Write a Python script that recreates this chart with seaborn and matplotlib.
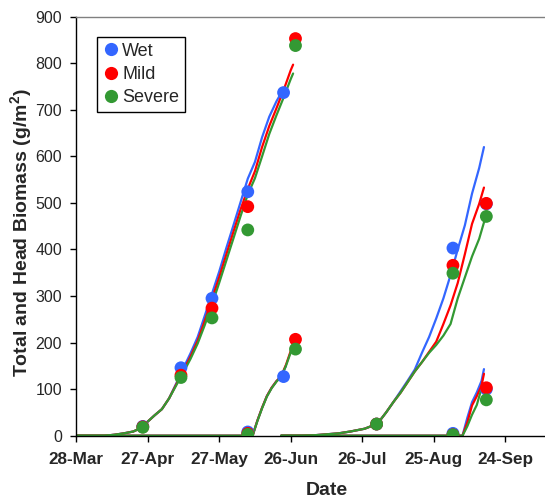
import pandas as pd
import matplotlib
matplotlib.use('Agg')
import matplotlib.pyplot as plt
from matplotlib.lines import Line2D
import seaborn as sns

start = pd.Timestamp('2007-03-28')
treatments = ['Wet', 'Mild', 'Severe']
colors = {'Wet': '#3366ff', 'Mild': '#ff0000', 'Severe': '#339933'}

# simulated curves, days after 28-Mar
s1_total_days = [0, 12, 16, 20, 24, 27, 30, 33, 36, 39, 42, 45, 48, 51, 54,
                 57, 60, 63, 66, 69, 72, 75, 78, 81, 84, 87, 90, 91]
s1_total_wet = [0, 0, 2, 5, 9, 16, 30, 44, 57, 80, 112, 145, 177, 212, 258,
                305, 352, 403, 452, 502, 552, 588, 641, 685, 718, 745]
s1_total_mild = [0, 0, 2, 5, 9, 16, 30, 44, 57, 80, 110, 140, 170, 204, 247,
                 293, 340, 389, 438, 486, 530, 568, 620, 665, 703, 742, 785, 797]
s1_total_severe = [0, 0, 2, 5, 9, 16, 30, 44, 57, 80, 108, 136, 165, 198, 238,
                   282, 328, 376, 424, 472, 518, 553, 600, 648, 688, 726, 766, 778]

s1_head_days = [0, 74, 76, 78, 80, 82, 84, 86, 88, 90, 91]
s1_head_wet = [0, 0, 32, 60, 85, 103, 117, 127, 150]
s1_head_mild = [0, 0, 32, 60, 85, 103, 117, 128, 152, 182, 196]
s1_head_severe = [0, 0, 31, 59, 84, 102, 116, 127, 150, 179, 192]

s2_total_days = [86, 95, 100, 105, 110, 115, 118, 121, 124, 127, 130, 133, 136,
                 139, 142, 145, 148, 151, 154, 157, 160, 163, 166, 169, 171, 172]
s2_total_wet = [0, 0, 1, 3, 5, 9, 12, 15, 21, 30, 50, 72, 95,
                118, 142, 178, 212, 252, 295, 345, 400, 452, 520, 575, 620]
s2_total_mild = [0, 0, 1, 3, 5, 9, 12, 15, 21, 30, 50, 72, 92,
                 115, 138, 158, 180, 202, 240, 280, 328, 390, 455, 498, 533]
s2_total_severe = [0, 0, 1, 3, 5, 9, 12, 15, 21, 30, 50, 72, 92,
                   115, 138, 158, 178, 195, 215, 240, 295, 340, 385, 423, 458, 472]

s2_head_days = [86, 162, 164, 166, 168, 170, 171]
s2_head_wet = [0, 0, 38, 72, 93, 118, 143]
s2_head_mild = [0, 0, 28, 65, 85, 108, 133]
s2_head_severe = [0, 0, 20, 45, 66, 102]

# measured points (day, value)
obs_wet = [(28, 20), (44, 146), (57, 295), (72, 524), (87, 737),
           (72, 8), (87, 127),
           (126, 25), (158, 403), (172, 498),
           (158, 5), (172, 100)]
obs_mild = [(28, 19), (44, 130), (57, 274), (72, 492), (92, 853),
            (72, 5), (92, 207),
            (126, 25), (158, 366), (172, 499),
            (158, 2), (172, 103)]
obs_severe = [(28, 18), (44, 125), (57, 253), (72, 442), (92, 838),
              (72, 3), (92, 186),
              (126, 25), (158, 349), (172, 471),
              (158, 2), (172, 77)]

tick_days = [0, 30, 60, 90, 120, 150, 180]
tick_labels = ['28-Mar', '27-Apr', '27-May', '26-Jun', '26-Jul', '25-Aug', '24-Sep']

curves = {
    's1_total': (s1_total_days, {'Wet': s1_total_wet, 'Mild': s1_total_mild, 'Severe': s1_total_severe}),
    's1_head': (s1_head_days, {'Wet': s1_head_wet, 'Mild': s1_head_mild, 'Severe': s1_head_severe}),
    's2_total': (s2_total_days, {'Wet': s2_total_wet, 'Mild': s2_total_mild, 'Severe': s2_total_severe}),
    's2_head': (s2_head_days, {'Wet': s2_head_wet, 'Mild': s2_head_mild, 'Severe': s2_head_severe}),
}

rows = []
for name, (days, series) in curves.items():
    for trt in treatments:
        for d, v in zip(days, series[trt]):
            rows.append({'treatment': trt, 'curve': name, 'date': start + pd.Timedelta(days=d), 'value': v})
lines = pd.DataFrame(rows)

rows = []
for trt, pts in zip(treatments, [obs_wet, obs_mild, obs_severe]):
    for d, v in pts:
        rows.append({'treatment': trt, 'date': start + pd.Timedelta(days=d), 'value': v})
obs = pd.DataFrame(rows)

sns.set_style('white')
plt.rcParams['font.family'] = ['Liberation Sans', 'DejaVu Sans']
plt.rcParams['mathtext.fontset'] = 'custom'
plt.rcParams['mathtext.rm'] = 'Liberation Sans'
plt.rcParams['mathtext.bf'] = 'Liberation Sans:bold'

fig = plt.figure(figsize=(5.45, 4.99), dpi=100)
ax = fig.add_axes([76 / 545, 63.3 / 499, 501 / 545, 419 / 499])

sns.lineplot(data=lines, x='date', y='value', hue='treatment', units='curve',
             estimator=None, sort=False, palette=colors, hue_order=treatments,
             linewidth=1.6, legend=False, ax=ax)
sns.scatterplot(data=obs, x='date', y='value', hue='treatment', palette=colors,
                hue_order=treatments, s=85, linewidth=0, legend=False, ax=ax, zorder=3)

ax.set_xlim(start, start + pd.Timedelta(days=210))
ax.set_ylim(0, 900)
ax.set_yticks(range(0, 901, 100))
ax.set_xticks([start + pd.Timedelta(days=d) for d in tick_days], tick_labels)

for lab in ax.get_xticklabels():
    lab.set_fontweight('bold')
ax.tick_params(axis='x', direction='out', length=4.5, width=1, color='black',
               labelsize=12.3, pad=7, bottom=True)
ax.tick_params(axis='y', direction='out', length=4.5, width=1, color='black',
               labelsize=11.5, pad=5.5, left=True)

for side in ['left', 'bottom']:
    ax.spines[side].set_color('black')
    ax.spines[side].set_linewidth(1)
ax.spines['top'].set_color('#808080')
ax.spines['top'].set_linewidth(1)
ax.spines['right'].set_visible(False)

ax.set_xlabel('Date', fontsize=14, fontweight='bold', labelpad=11)
ax.set_ylabel(r'Total and Head Biomass (g/m$^{\mathbf{2}}$)', fontsize=14, fontweight='bold')
ax.yaxis.set_label_coords((35.5 - 76) / 501, 0.484)

handles = [Line2D([], [], marker='o', linestyle='none', markersize=9.5,
                  markerfacecolor=colors[t], markeredgewidth=0) for t in treatments]
leg = ax.legend(handles, treatments, loc='upper left', bbox_to_anchor=(0.042, 0.951),
                frameon=True, fancybox=False, edgecolor='black', framealpha=1,
                fontsize=13, borderpad=0.3, labelspacing=0.35, handletextpad=0.1,
                handlelength=1.0, borderaxespad=0)
leg.get_frame().set_linewidth(1)

fig.savefig('out.png', dpi=100)
